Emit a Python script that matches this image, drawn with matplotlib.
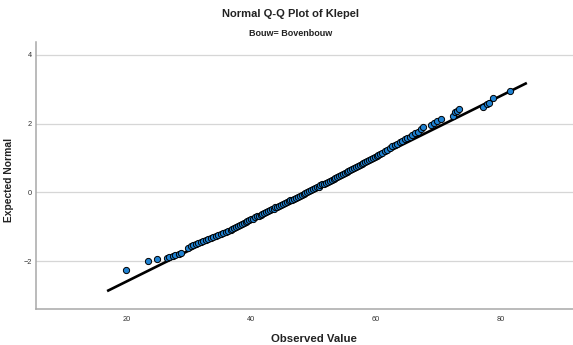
import matplotlib
matplotlib.use("Agg")
import matplotlib.pyplot as plt

plt.rcParams['font.family'] = ['Liberation Sans', 'DejaVu Sans']

# observed Klepel scores (sorted) and their expected normal scores
observed = [
    20.0, 23.4, 24.9, 26.5, 26.9, 27.4, 27.8, 28.4, 28.7,
    29.9, 30.3, 30.7, 31.1, 31.5, 31.9, 32.3, 32.7, 33.1, 33.5, 33.9,
    34.3, 34.7, 35.1, 35.5, 35.9, 36.3, 36.7, 37.0, 37.3, 37.6, 37.9,
    38.2, 38.5, 38.8, 39.1, 39.4, 39.7, 40.0, 40.3, 40.6, 40.9, 41.2,
    41.5, 41.8, 42.1, 42.4, 42.7, 43.0, 43.3, 43.6, 43.9, 44.2, 44.5,
    44.8, 45.1, 45.4, 45.7, 46.0, 46.3, 46.6, 46.9, 47.2, 47.5, 47.8,
    48.1, 48.4, 48.7, 49.0, 49.3, 49.6, 49.9, 50.2, 50.5, 50.8, 51.1,
    51.4, 51.7, 52.0, 52.3, 52.6, 52.9, 53.2, 53.5, 53.8, 54.1, 54.4,
    54.7, 55.0, 55.3, 55.6, 55.9, 56.2, 56.5, 56.8, 57.1, 57.4, 57.7,
    58.0, 58.3, 58.6, 58.9, 59.2, 59.5, 59.8, 60.1, 60.4, 60.7, 61.0,
    61.4, 61.8, 62.2, 62.6, 63.0, 63.4, 63.8, 64.2, 64.6, 65.0, 65.4,
    65.8, 66.3, 66.8, 67.3, 67.6, 68.9, 69.3, 69.8, 70.4,
    72.3, 72.7, 73.0, 73.4, 77.1, 77.8, 78.1, 78.7, 81.5,
]
expected = [
    -2.26, -1.99, -1.95, -1.90, -1.87, -1.84, -1.82, -1.79, -1.75,
    -1.61, -1.57, -1.54, -1.51, -1.48, -1.45, -1.42, -1.38, -1.35, -1.32, -1.29,
    -1.26, -1.23, -1.21, -1.18, -1.15, -1.12, -1.09, -1.06, -1.03, -1.00, -0.97,
    -0.95, -0.92, -0.89, -0.86, -0.84, -0.81, -0.78, -0.76, -0.73, -0.70, -0.68,
    -0.65, -0.62, -0.60, -0.57, -0.54, -0.52, -0.49, -0.47, -0.44, -0.42, -0.39,
    -0.37, -0.34, -0.31, -0.29, -0.26, -0.23, -0.21, -0.18, -0.15, -0.13, -0.10,
    -0.07, -0.04, -0.02, 0.01, 0.04, 0.07, 0.09, 0.12, 0.15, 0.17, 0.20,
    0.23, 0.25, 0.28, 0.31, 0.34, 0.37, 0.39, 0.42, 0.45, 0.48, 0.50,
    0.53, 0.56, 0.59, 0.62, 0.65, 0.67, 0.70, 0.73, 0.76, 0.79, 0.82,
    0.85, 0.88, 0.91, 0.94, 0.97, 1.00, 1.03, 1.06, 1.09, 1.12, 1.15,
    1.19, 1.23, 1.29, 1.34, 1.38, 1.42, 1.46, 1.50, 1.54, 1.58, 1.62,
    1.67, 1.72, 1.76, 1.83, 1.89, 1.96, 2.01, 2.07, 2.13,
    2.22, 2.33, 2.36, 2.41, 2.49, 2.57, 2.60, 2.73, 2.95,
]

# normal reference line (mean / sd of the sample)
line_x = [16.9, 84.2]
line_y = [-2.87, 3.18]

xticks = [20, 40, 60, 80]
yticks = [-2, 0, 2, 4]

fig = plt.figure(figsize=(5.73, 3.45), dpi=100)
ax = fig.add_axes([36 / 573, 36 / 345, 537 / 573, 267 / 345])

ax.plot(line_x, line_y, color='black', lw=1.9, zorder=2, solid_capstyle='butt')
ax.scatter(observed, expected, s=20, facecolor='#1f82d2', edgecolor='black',
           linewidths=0.7, zorder=3)

ax.set_xlim(5.5, 91.6)
ax.set_ylim(-3.39, 4.37)
ax.set_xticks(xticks)
ax.set_yticks(yticks)
ax.tick_params(length=0, labelsize=5.3, colors='#333333')
ax.tick_params(axis='y', pad=3)
ax.tick_params(axis='x', pad=5)

ax.grid(axis='y', color='#d6d6d6', lw=0.9)
ax.set_axisbelow(True)
for side in ['top', 'right']:
    ax.spines[side].set_visible(False)
for side in ['left', 'bottom']:
    ax.spines[side].set_color('#a8a8a8')
    ax.spines[side].set_linewidth(1.1)

fig.text(291 / 573, 1 - 14 / 345, 'Normal Q-Q Plot of Klepel', ha='center',
         va='center', fontsize=8, fontweight='bold', color='#222222')
fig.text(291 / 573, 1 - 34 / 345, 'Bouw= Bovenbouw', ha='center',
         va='center', fontsize=6.5, fontweight='bold', color='#222222')
fig.text(314 / 573, 1 - 339 / 345, 'Observed Value', ha='center',
         va='center', fontsize=8.2, fontweight='bold', color='#222222')
fig.text(9.5 / 573, 1 - 180 / 345, 'Expected Normal', ha='center',
         va='center', rotation=90, fontsize=7.4, fontweight='bold',
         color='#222222')

fig.savefig('out.png', dpi=100)
